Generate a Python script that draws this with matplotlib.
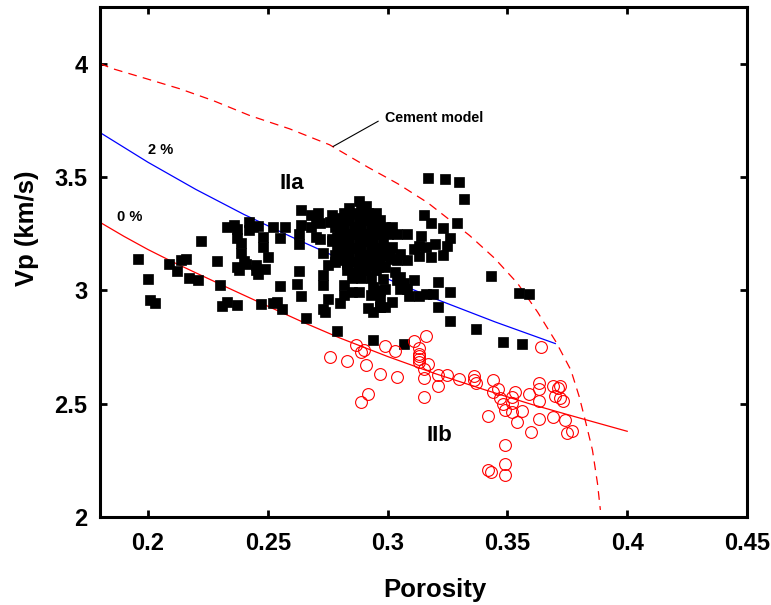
import matplotlib
matplotlib.use("Agg")
import matplotlib.pyplot as plt

plt.rcParams['font.family'] = ['Liberation Sans', 'DejaVu Sans']
plt.rcParams['font.weight'] = 'bold'

# Group IIa samples (black squares): porosity, Vp (km/s)
iia_phi = [0.196, 0.200, 0.201, 0.203, 0.209, 0.212, 0.214, 0.216, 0.217, 0.221,
           0.222, 0.229, 0.230, 0.231, 0.233, 0.237, 0.233, 0.236, 0.237, 0.242,
           0.242, 0.244, 0.246, 0.237, 0.239, 0.239, 0.240, 0.237, 0.238, 0.241,
           0.245, 0.245, 0.247, 0.248, 0.248, 0.250, 0.246, 0.249, 0.252, 0.255,
           0.257, 0.255, 0.252, 0.254, 0.256, 0.263, 0.262, 0.264, 0.266, 0.264,
           0.264, 0.263, 0.263, 0.268, 0.271, 0.277, 0.268, 0.272, 0.273, 0.275,
           0.273, 0.273, 0.275, 0.273, 0.274, 0.280, 0.282, 0.282, 0.279, 0.282,
           0.283, 0.270, 0.272, 0.276, 0.279, 0.270, 0.277, 0.280, 0.278, 0.281,
           0.317, 0.324, 0.330, 0.332, 0.288, 0.291, 0.288, 0.283, 0.294, 0.302,
           0.304, 0.308, 0.315, 0.318, 0.323, 0.329, 0.314, 0.320, 0.313, 0.316,
           0.313, 0.318, 0.326, 0.325, 0.311, 0.302, 0.297, 0.297, 0.305, 0.323,
           0.308, 0.304, 0.299, 0.303, 0.305, 0.311, 0.307, 0.321, 0.326, 0.316,
           0.319, 0.313, 0.343, 0.355, 0.359, 0.298, 0.297, 0.301, 0.304, 0.305,
           0.308, 0.309, 0.299, 0.294, 0.293, 0.297, 0.297, 0.292, 0.294, 0.299,
           0.302, 0.285, 0.288, 0.292, 0.296, 0.286, 0.288, 0.321, 0.326, 0.337,
           0.348, 0.356, 0.279, 0.294, 0.307, 0.297,
           # dense core of the cloud
           0.284, 0.289,
           0.282, 0.286, 0.292, 0.295,
           0.280, 0.284, 0.288, 0.291, 0.297,
           0.278, 0.282, 0.286, 0.289, 0.293, 0.296, 0.299,
           0.280, 0.283, 0.287, 0.290, 0.293, 0.297, 0.300,
           0.277, 0.281, 0.284, 0.288, 0.291, 0.294, 0.298,
           0.279, 0.283, 0.286, 0.289, 0.293, 0.296, 0.299,
           0.281, 0.284, 0.288, 0.291, 0.294, 0.298, 0.301,
           0.278, 0.283, 0.286, 0.289, 0.293, 0.297,
           0.283, 0.288, 0.291, 0.295,
           0.285, 0.289, 0.293]
iia_vp = [3.137, 3.052, 2.959, 2.944, 3.118, 3.084, 3.132, 3.140, 3.054, 3.044,
          3.217, 3.128, 3.025, 2.930, 2.948, 2.934, 3.279, 3.286, 3.269, 3.301,
          3.264, 3.279, 3.282, 3.230, 3.208, 3.164, 3.128, 3.103, 3.088, 3.118,
          3.110, 3.088, 2.941, 3.235, 3.191, 3.147, 3.074, 3.096, 3.279, 3.232,
          3.279, 3.018, 2.946, 2.948, 2.916, 3.087, 3.028, 2.974, 2.878, 3.356,
          3.286, 3.250, 3.206, 3.330, 3.342, 3.330, 3.279, 3.228, 3.166, 3.113,
          3.066, 3.025, 2.963, 2.919, 2.904, 2.944, 2.978, 3.022, 3.235, 3.198,
          3.118, 3.308, 3.295, 3.300, 3.317, 3.235, 3.228, 3.184, 3.154, 3.132,
          3.496, 3.489, 3.477, 3.404, 3.392, 3.371, 3.338, 3.316, 3.308, 3.279,
          3.250, 3.247, 3.333, 3.297, 3.276, 3.297, 3.240, 3.205, 3.196, 3.191,
          3.151, 3.147, 3.232, 3.197, 3.184, 3.191, 3.264, 3.162, 3.162, 3.154,
          3.132, 3.132, 3.103, 3.081, 3.059, 3.047, 3.032, 3.037, 2.993, 2.985,
          2.985, 2.974, 3.063, 2.988, 2.985, 3.052, 3.000, 3.140, 3.044, 3.004,
          3.004, 2.975, 3.004, 3.015, 2.981, 2.963, 2.926, 2.922, 2.904, 2.926,
          2.948, 2.993, 2.993, 3.110, 3.103, 3.081, 3.122, 2.926, 2.863, 2.828,
          2.772, 2.762, 2.819, 2.781, 2.761, 2.926,
          3.361, 3.361,
          3.339, 3.339, 3.339, 3.339,
          3.308, 3.308, 3.308, 3.308, 3.308,
          3.278, 3.278, 3.278, 3.278, 3.278, 3.278, 3.278,
          3.247, 3.247, 3.247, 3.247, 3.247, 3.247, 3.247,
          3.216, 3.216, 3.216, 3.216, 3.216, 3.216, 3.216,
          3.185, 3.185, 3.185, 3.185, 3.185, 3.185, 3.185,
          3.154, 3.154, 3.154, 3.154, 3.154, 3.154, 3.154,
          3.123, 3.123, 3.123, 3.123, 3.123, 3.123,
          3.088, 3.088, 3.088, 3.088,
          3.053, 3.053, 3.053]

# Group IIb samples (red open circles)
iib_phi = [0.276, 0.283, 0.287, 0.289, 0.290, 0.291, 0.289, 0.292, 0.297, 0.299,
           0.303, 0.304, 0.311, 0.316, 0.313, 0.313, 0.313, 0.313, 0.313, 0.317,
           0.315, 0.315, 0.315, 0.321, 0.321, 0.325, 0.330, 0.336, 0.336, 0.337,
           0.344, 0.346, 0.344, 0.347, 0.348, 0.349, 0.352, 0.353, 0.352, 0.352,
           0.354, 0.356, 0.342, 0.359, 0.363, 0.363, 0.363, 0.363, 0.360, 0.364,
           0.369, 0.371, 0.372, 0.370, 0.372, 0.373, 0.369, 0.374, 0.375, 0.377,
           0.349, 0.349, 0.342, 0.343, 0.349]
iib_vp = [2.706, 2.689, 2.758, 2.728, 2.736, 2.670, 2.508, 2.541, 2.629, 2.755,
          2.731, 2.618, 2.775, 2.797, 2.746, 2.721, 2.709, 2.696, 2.684, 2.677,
          2.655, 2.611, 2.530, 2.626, 2.578, 2.626, 2.607, 2.622, 2.604, 2.589,
          2.604, 2.564, 2.552, 2.527, 2.498, 2.471, 2.530, 2.552, 2.501, 2.461,
          2.420, 2.467, 2.446, 2.542, 2.564, 2.592, 2.511, 2.432, 2.376, 2.750,
          2.577, 2.567, 2.578, 2.534, 2.527, 2.511, 2.439, 2.427, 2.369, 2.379,
          2.317, 2.233, 2.207, 2.197, 2.185]

# Model curves
cement_phi = [0.1800, 0.1855, 0.1995, 0.2133, 0.2272, 0.2425, 0.2592, 0.2758,
              0.2918, 0.3043, 0.3168, 0.3342, 0.3446, 0.3543, 0.3626, 0.3703,
              0.3765, 0.3800, 0.3828, 0.3855, 0.3876, 0.3888]
cement_vp = [4.000, 3.977, 3.933, 3.889, 3.837, 3.771, 3.712, 3.642,
             3.543, 3.470, 3.386, 3.242, 3.142, 3.030, 2.904, 2.772,
             2.648, 2.530, 2.413, 2.295, 2.148, 2.031]

clay2_phi = [0.180, 0.200, 0.220, 0.240, 0.260, 0.280, 0.300, 0.320, 0.345, 0.370]
clay2_vp = [3.696, 3.565, 3.445, 3.335, 3.235, 3.140, 3.050, 2.962, 2.860, 2.765]

clay0_phi = [0.180, 0.190, 0.200, 0.210, 0.220, 0.235, 0.250, 0.265, 0.280,
             0.300, 0.320, 0.340, 0.360, 0.380, 0.400]
clay0_vp = [3.300, 3.238, 3.180, 3.127, 3.077, 3.003, 2.930, 2.858, 2.790,
            2.708, 2.632, 2.563, 2.497, 2.437, 2.378]

fig = plt.figure(figsize=(7.71, 6.05), dpi=100)
ax = fig.add_axes([0.1297, 0.1455, 0.8392, 0.8430])

ax.plot(cement_phi, cement_vp, color='red', linestyle=(0, (7, 5)), linewidth=0.9)
ax.plot(clay2_phi, clay2_vp, color='blue', linewidth=0.9)
ax.plot(clay0_phi, clay0_vp, color='red', linewidth=0.9)

ax.plot(iia_phi, iia_vp, linestyle='none', marker='s', markersize=6.7,
        markerfacecolor='black', markeredgecolor='black', markeredgewidth=0.5)
ax.plot(iib_phi, iib_vp, linestyle='none', marker='o', markersize=8.5,
        markerfacecolor='none', markeredgecolor='red', markeredgewidth=0.8)

ax.text(0.200, 3.621, '2 %', fontsize=10.5, fontweight='bold', ha='left', va='center')
ax.text(0.187, 3.322, '0 %', fontsize=10.5, fontweight='bold', ha='left', va='center')
ax.text(0.260, 3.471, 'IIa', fontsize=16, fontweight='bold', ha='center', va='center')
ax.text(0.3217, 2.361, 'IIb', fontsize=16, fontweight='bold', ha='center', va='center')
ax.annotate('Cement model', xy=(0.2772, 3.634), xytext=(0.2988, 3.762),
            fontsize=10.3, fontweight='bold', ha='left', va='center',
            arrowprops=dict(arrowstyle='-', color='black', lw=0.8,
                            shrinkA=3, shrinkB=0, relpos=(0, 0.5)))

ax.set_xlim(0.18, 0.45)
ax.set_ylim(2, 4.25)
ax.set_xticks([0.2, 0.25, 0.3, 0.35, 0.4, 0.45])
ax.set_xticklabels(['0.2', '0.25', '0.3', '0.35', '0.4', '0.45'])
ax.set_yticks([2, 2.5, 3, 3.5, 4])
ax.set_yticklabels(['2', '2.5', '3', '3.5', '4'])

ax.tick_params(direction='in', length=5, width=2, top=True, right=True,
               labelsize=17)
ax.tick_params(axis='x', pad=11)
ax.tick_params(axis='y', pad=9)
for lab in ax.get_xticklabels() + ax.get_yticklabels():
    lab.set_fontweight('bold')
for sp in ax.spines.values():
    sp.set_linewidth(2.2)

ax.set_xlabel('Porosity', fontsize=18.5, fontweight='bold')
ax.set_ylabel('Vp (km/s)', fontsize=18.5, fontweight='bold')
ax.xaxis.set_label_coords(0.518, -0.12)
ax.yaxis.set_label_coords(-0.095, 0.567)

fig.savefig('out.png', dpi=100)
